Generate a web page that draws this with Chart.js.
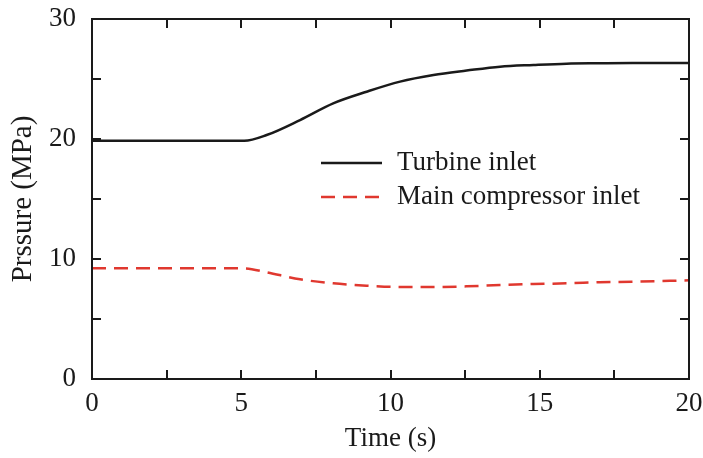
<!DOCTYPE html>
<html>
<head>
<meta charset="utf-8">
<style>
  html, body { margin: 0; padding: 0; background: #fff; }
  #wrap { width: 703px; height: 458px; }
</style>
<script src="https://cdn.jsdelivr.net/npm/chart.js@4/dist/chart.umd.min.js"></script>
</head>
<body>
<div id="wrap"><canvas id="pressureChart" width="703" height="458"></canvas></div>
<script>
// Time axis samples (s)
const timeS = [0, 5.1, 5.85, 6.97, 8.08, 9.2, 10.32, 11.44, 12.55, 13.67, 14.79, 15.9, 17, 18.1, 20];
// Pressure at each sample (MPa)
const turbineInlet = [19.85, 19.85, 20.33, 21.58, 22.97, 23.94, 24.78, 25.33, 25.7, 26.03, 26.17, 26.28, 26.31, 26.33, 26.33];
const compressorInlet = [9.22, 9.22, 8.89, 8.31, 7.97, 7.78, 7.67, 7.67, 7.72, 7.83, 7.92, 7.97, 8.06, 8.11, 8.22];
const seriesNames = ['Turbine inlet', 'Main compressor inlet'];
const xTicks = [0, 5, 10, 15, 20];
const yTicks = [0, 10, 20, 30];

const FONT = '"Liberation Serif", "Times New Roman", serif';
const INK = '#1a1a1a';
const RED = '#e0382f';

function toPoints(xs, ys) {
    return xs.map((x, i) => ({ x: x, y: ys[i] }));
}

// frame, inward tick marks and the in-plot legend
const framePlugin = {
    id: 'frame',
    afterDatasetsDraw(chart) {
        const { ctx, chartArea: a, scales } = chart;
        ctx.save();
        ctx.strokeStyle = INK;
        ctx.lineWidth = 2;
        ctx.strokeRect(a.left, a.top, a.right - a.left, a.bottom - a.top);

        const len = 9;
        ctx.beginPath();
        scales.x.ticks.forEach(t => {
            const px = Math.round(scales.x.getPixelForValue(t.value));
            ctx.moveTo(px, a.bottom); ctx.lineTo(px, a.bottom - len);
            ctx.moveTo(px, a.top); ctx.lineTo(px, a.top + len);
        });
        scales.y.ticks.forEach(t => {
            const py = Math.round(scales.y.getPixelForValue(t.value));
            ctx.moveTo(a.left, py); ctx.lineTo(a.left + len, py);
            ctx.moveTo(a.right, py); ctx.lineTo(a.right - len, py);
        });
        ctx.stroke();

        // legend
        const lx = a.left + 229, ly = a.top + 144, gap = 34;
        chart.data.datasets.forEach((ds, i) => {
            const y = ly + i * gap;
            ctx.beginPath();
            ctx.strokeStyle = ds.borderColor;
            ctx.lineWidth = ds.borderWidth;
            ctx.setLineDash(ds.borderDash || []);
            ctx.moveTo(lx, y);
            ctx.lineTo(lx + 61, y);
            ctx.stroke();
            ctx.setLineDash([]);
            ctx.fillStyle = INK;
            ctx.font = '27px ' + FONT;
            ctx.textBaseline = 'middle';
            ctx.fillText(ds.label, lx + 76, y);
        });
        ctx.restore();
    }
};

document.addEventListener('DOMContentLoaded', () => {
    const ctx = document.getElementById('pressureChart');
    new Chart(ctx, {
        type: 'line',
        data: {
            datasets: [{
                label: seriesNames[0],
                data: toPoints(timeS, turbineInlet),
                borderColor: INK,
                borderWidth: 2.5,
                pointRadius: 0,
                cubicInterpolationMode: 'monotone',
                fill: false
            }, {
                label: seriesNames[1],
                data: toPoints(timeS, compressorInlet),
                borderColor: RED,
                borderWidth: 2.5,
                borderDash: [14, 8],
                pointRadius: 0,
                cubicInterpolationMode: 'monotone',
                fill: false
            }]
        },
        options: {
            responsive: false,
            animation: false,
            layout: { padding: { left: 0, right: 14, top: 19, bottom: 0 } },
            plugins: {
                legend: { display: false },
                tooltip: { enabled: false }
            },
            scales: {
                x: {
                    type: 'linear',
                    min: 0,
                    max: 20,
                    border: { display: false },
                    grid: { display: false, drawTicks: false },
                    ticks: {
                        stepSize: 2.5,
                        autoSkip: false,
                        maxRotation: 0,
                        padding: 9,
                        color: INK,
                        font: { family: FONT, size: 27 },
                        callback: v => xTicks.includes(v) ? String(v) : ''
                    },
                    title: {
                        display: true,
                        text: 'Time (s)',
                        color: INK,
                        font: { family: FONT, size: 27 },
                        padding: { top: 0, bottom: 3 }
                    },
                    afterFit: s => {
                        s.height = 79;
                        s.paddingLeft = 0;
                        s.paddingRight = 0;
                    }
                },
                y: {
                    min: 0,
                    max: 30,
                    border: { display: false },
                    grid: { display: false, drawTicks: false },
                    ticks: {
                        stepSize: 5,
                        autoSkip: false,
                        padding: 16,
                        color: INK,
                        font: { family: FONT, size: 27 },
                        callback: v => yTicks.includes(v) ? String(v) : ''
                    },
                    title: {
                        display: true,
                        text: 'Prssure (MPa)',
                        color: INK,
                        font: { family: FONT, size: 29 },
                        padding: { top: 6, bottom: 0 }
                    },
                    afterFit: s => {
                        s.width = 92;
                        s.paddingTop = 0;
                        s.paddingBottom = 0;
                    }
                }
            }
        },
        plugins: [framePlugin]
    });
});
</script>
</body>
</html>
